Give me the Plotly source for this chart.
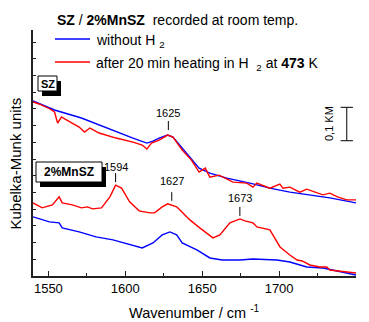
import plotly.graph_objects as go

# ---- data (Kubelka-Munk units) ----
sz_wo_x = [1540, 1554, 1571.5, 1583, 1594, 1605, 1614, 1618, 1622, 1627.5, 1631, 1637, 1642, 1648,
           1655, 1666, 1681, 1694, 1707, 1720, 1733, 1750]
sz_wo_y = [0.524, 0.497, 0.473, 0.452, 0.431, 0.413, 0.398, 0.404, 0.413, 0.422, 0.416, 0.383, 0.356,
           0.323, 0.308, 0.293, 0.278, 0.263, 0.251, 0.243, 0.234, 0.219]

sz_h2_x = [1540, 1544, 1551, 1554, 1556, 1558.5, 1562, 1570, 1573.5, 1577, 1583, 1594, 1605, 1611,
           1614, 1617, 1622, 1627.5, 1631, 1637, 1643, 1648, 1652, 1655, 1661, 1670, 1679, 1683,
           1685.5, 1694, 1700.5, 1702.5, 1707, 1713.5, 1718, 1728.5, 1733, 1738, 1744, 1750]
sz_h2_y = [0.521, 0.515, 0.500, 0.491, 0.458, 0.476, 0.467, 0.446, 0.431, 0.443, 0.428, 0.413, 0.401,
           0.392, 0.380, 0.398, 0.407, 0.422, 0.416, 0.377, 0.347, 0.311, 0.323, 0.296, 0.302, 0.281,
           0.278, 0.266, 0.278, 0.263, 0.275, 0.263, 0.266, 0.251, 0.260, 0.243, 0.248, 0.237, 0.228,
           0.228]

mn_wo_x = [1540, 1550.7, 1557, 1559, 1570, 1581, 1592, 1603, 1611, 1618, 1624, 1629, 1633.4, 1637,
           1646.5, 1655, 1663, 1674.5, 1683, 1698.6, 1707, 1718, 1728.6, 1737.7, 1750]
mn_wo_y = [0.177, 0.162, 0.159, 0.144, 0.132, 0.117, 0.108, 0.093, 0.084, 0.099, 0.123, 0.132, 0.123,
           0.099, 0.078, 0.054, 0.048, 0.048, 0.051, 0.048, 0.042, 0.027, 0.024, 0.015, 0.003]

mn_h2_x = [1540, 1546, 1552.6, 1557, 1559, 1565.6, 1571.5, 1575.4, 1578.7, 1584.5, 1590, 1593.7,
           1597.6, 1602.8, 1609, 1616, 1619, 1624, 1627.6, 1633.4, 1636.7, 1642, 1648.4, 1651.7,
           1657, 1661.5, 1668, 1674.5, 1677.8, 1683, 1685.6, 1694, 1700.6, 1707, 1711.7, 1715,
           1720, 1726.5, 1731, 1733, 1750]
mn_h2_y = [0.219, 0.204, 0.213, 0.237, 0.219, 0.213, 0.204, 0.207, 0.201, 0.204, 0.237, 0.272, 0.263,
           0.222, 0.195, 0.189, 0.189, 0.207, 0.216, 0.207, 0.192, 0.168, 0.144, 0.132, 0.114, 0.123,
           0.159, 0.171, 0.165, 0.159, 0.147, 0.138, 0.087, 0.063, 0.048, 0.045, 0.033, 0.027, 0.027,
           0.018, 0.009]

peak_labels = ["1625", "1594", "1627", "1673"]
peak_x = [1628, 1593.7, 1630.2, 1674.5]
peak_label_y = [0.488, 0.326, 0.284, 0.234]
peak_tick_y0 = [0.437, 0.281, 0.225, 0.180]
peak_tick_y1 = [0.464, 0.308, 0.251, 0.207]

x_ticks = [1550, 1600, 1650, 1700, 1750]
scale_bar = 0.1  # KM

BLUE = "#0000ff"
RED = "#ff0000"
FONT = "Arial, Liberation Sans, sans-serif"
NARROW = "Liberation Sans Narrow, Arial Narrow, Liberation Sans, sans-serif"

# page layout (the html body adds an 8px margin, so the figure is shrunk by it)
OFF = 8
PAGE_W, PAGE_H = 369, 322
PL, PT, PR, PB = 33, 30, 356, 276          # plot area edges in page pixels
W, H = PAGE_W - OFF, PAGE_H - OFF
L, T = PL - OFF, PT - OFF
R, B = PAGE_W - PR, PAGE_H - PB
PW, PH = PR - PL, PB - PT


def px(xp):
    return (xp - PL) / PW


def py(yp):
    return (PB - yp) / PH


fig = go.Figure()
for xs, ys, c in [(sz_wo_x, sz_wo_y, BLUE), (sz_h2_x, sz_h2_y, RED),
                  (mn_wo_x, mn_wo_y, BLUE), (mn_h2_x, mn_h2_y, RED)]:
    fig.add_trace(go.Scatter(x=xs, y=ys, mode="lines", line=dict(color=c, width=1.4),
                             showlegend=False, hoverinfo="skip"))

shapes = []
ann = []


def text(x, y, t, size, xanchor="center", yanchor="middle", angle=0, family=FONT, ref="paper"):
    ann.append(dict(x=x, y=y, xref=ref if ref == "paper" else "x", yref=ref if ref == "paper" else "y",
                    text=t, showarrow=False, xanchor=xanchor, yanchor=yanchor, textangle=angle,
                    font=dict(family=family, size=size, color="black")))


# peak markers
for lab, x, ly, y0, y1 in zip(peak_labels, peak_x, peak_label_y, peak_tick_y0, peak_tick_y1):
    shapes.append(dict(type="line", xref="x", yref="y", x0=x, x1=x, y0=y0, y1=y1,
                       line=dict(color="black", width=1)))
    text(x, ly, lab, 11, ref="data")

# scale bar
sb_x = 1744
sb_y0 = 0.405
shapes.append(dict(type="line", xref="x", yref="y", x0=sb_x, x1=sb_x, y0=sb_y0, y1=sb_y0 + scale_bar,
                   line=dict(color="black", width=1)))
for yy in (sb_y0, sb_y0 + scale_bar):
    shapes.append(dict(type="line", xref="x", yref="y", x0=sb_x - 4, x1=sb_x + 4, y0=yy, y1=yy,
                       line=dict(color="black", width=1)))
text(px(329), py(124), "0,1 KM", 11, angle=-90)

# boxes with shadow
for (bx0, by0, bx1, by1), txt, fs in [((38, 76, 57, 91), "SZ", 11), ((36, 162, 102, 182), "2%MnSZ", 12)]:
    shapes.append(dict(type="rect", xref="paper", yref="paper", x0=px(bx0 + 4), x1=px(bx1 + 4),
                       y0=py(by0 + 5), y1=py(by1 + 5), fillcolor="black", line=dict(width=0)))
    shapes.append(dict(type="rect", xref="paper", yref="paper", x0=px(bx0), x1=px(bx1),
                       y0=py(by0), y1=py(by1), fillcolor="white", line=dict(color="black", width=1)))
    text(px((bx0 + bx1) / 2), py((by0 + by1) / 2), "<b>" + txt + "</b>", fs)

# title + legend
text(px(55), py(20), "<b>SZ</b> / <b>2%MnSZ</b>  recorded at room temp.", 14, xanchor="left")
for yy, c, txt in [(39, BLUE, "without H <sub>2</sub>"),
                   (62, RED, "after 20 min heating in H  <sub>2</sub> at <b>473</b> K")]:
    shapes.append(dict(type="line", xref="paper", yref="paper", x0=px(55), x1=px(90), y0=py(yy), y1=py(yy),
                       line=dict(color=c, width=1.4)))
    text(px(94), py(yy + 2), txt, 14, xanchor="left")

# axis titles
text(px(14.5), py(164), "Kubelka-Munk units", 15, angle=-90)
text(px(194), py(312), "Wavenumber / cm <sup>-1</sup>", 14.5)

fig.update_layout(
    width=W, height=H, margin=dict(l=L, r=R, t=T, b=B, autoexpand=False),
    paper_bgcolor="white", plot_bgcolor="white",
    shapes=shapes, annotations=ann, showlegend=False,
    xaxis=dict(range=[1540, 1750], tickvals=x_ticks, ticks="inside", ticklen=5, tickwidth=1,
               tickcolor="#222", showline=True, linecolor="#222", linewidth=1.5, showgrid=False,
               zeroline=False, tickfont=dict(family=NARROW, size=13, color="black"),
               minor=dict(dtick=25, tick0=1550, ticks="inside", ticklen=3, tickcolor="#222")),
    yaxis=dict(range=[0, 0.7365], dtick=0.05, tick0=0, ticks="inside", ticklen=3, tickcolor="#222",
               showticklabels=False, showline=True, linecolor="#222", linewidth=1.5,
               showgrid=False, zeroline=False),
)

fig.write_html("out.html")
